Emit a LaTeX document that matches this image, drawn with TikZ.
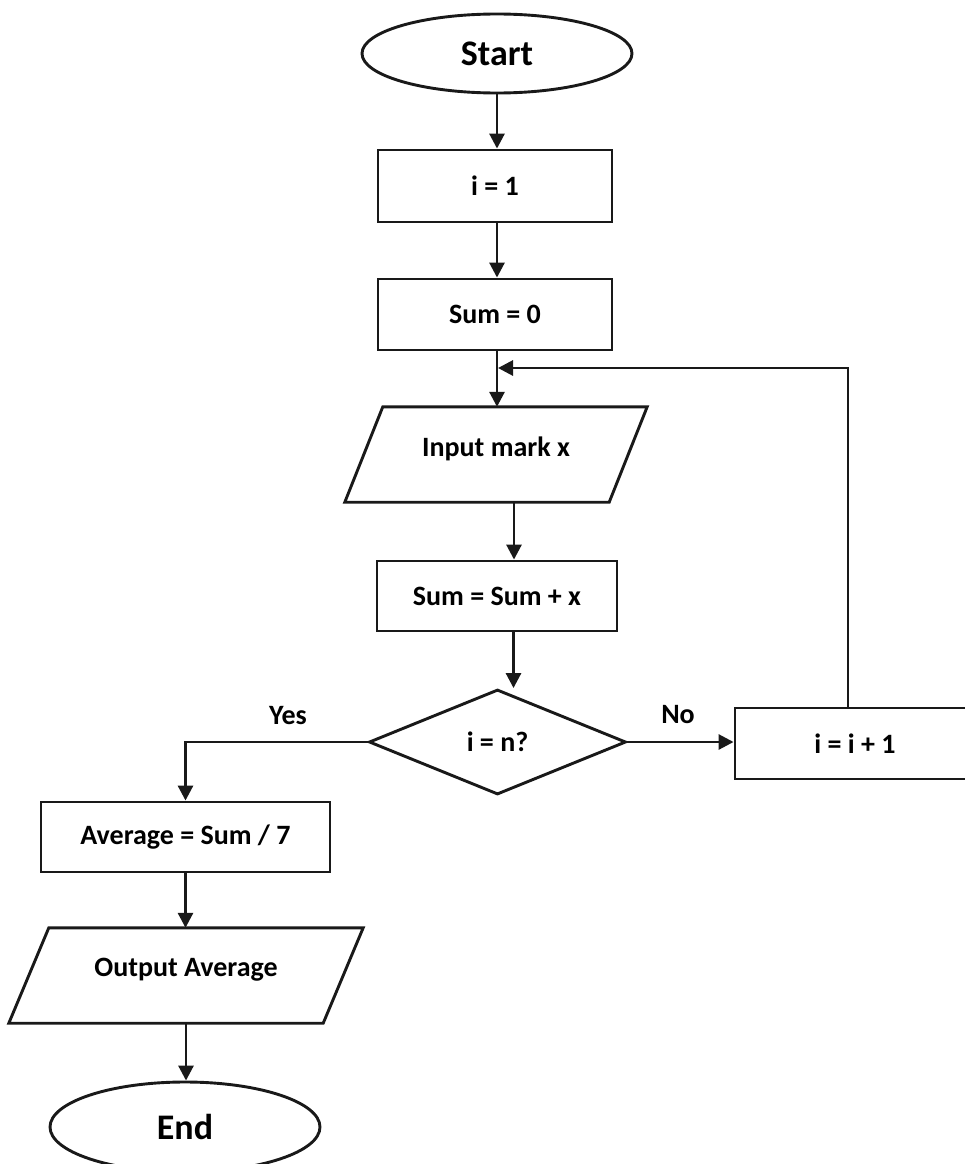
\documentclass[tikz,border=0pt]{standalone}
\usepackage{fontspec}
\setmainfont{Carlito}
\usetikzlibrary{arrows.meta,shapes.geometric,calc}
\tikzset{
  line/.style={draw=black!90, line width=2.9pt},
  arr/.style={line, -{Triangle[length=15pt,width=15pt]}},
  txt/.style={font=\fontsize{28}{32}\selectfont\bfseries},
  bigtxt/.style={font=\fontsize{36}{40}\selectfont\bfseries},
  term/.style={line, ellipse, inner sep=0pt, bigtxt, fill=white},
  procbox/.style={line, rectangle, inner sep=0pt, txt},
  iobody/.style={rectangle, inner sep=0pt, txt, text depth=16pt},
  decision/.style={line, diamond, inner sep=0pt, txt},
}
\begin{document}
\begin{tikzpicture}[x=1pt,y=-1pt]
\useasboundingbox (0,0) rectangle (965,1164);
\clip (0,0) rectangle (965,1164);

% nodes
\node[term, minimum width=270pt, minimum height=79pt] (start) at (497,53.5) {Start};
\node[procbox, minimum width=234pt, minimum height=72pt] (i1) at (495,186) {i = 1};
\node[procbox, minimum width=234pt, minimum height=71pt] (sum0) at (495,314.5) {Sum = 0};
\node[iobody, minimum width=264pt, minimum height=95pt] (inp) at (496,454.5) {Input mark x};
\draw[line] ([xshift=19pt]inp.north west) -- ([xshift=19pt]inp.north east)
  -- ([xshift=-19pt]inp.south east) -- ([xshift=-19pt]inp.south west) -- cycle;
\node[procbox, minimum width=240pt, minimum height=70pt] (sumx) at (497,596) {Sum = Sum + x};
\node[decision, minimum width=257pt, minimum height=105pt, aspect=2.45] (dec) at (497.5,742) {i = n?};
\node[procbox, minimum width=240pt, minimum height=71pt] (inc) at (855,743.5) {i = i + 1};
\node[procbox, minimum width=289pt, minimum height=70pt] (avg) at (185.5,837) {Average = Sum / 7};
\node[iobody, minimum width=314pt, minimum height=95pt] (out) at (186,975.5) {Output Average};
\draw[line] ([xshift=20pt]out.north west) -- ([xshift=20pt]out.north east)
  -- ([xshift=-20pt]out.south east) -- ([xshift=-20pt]out.south west) -- cycle;
\node[term, minimum width=270pt, minimum height=90pt] (end) at (185,1127) {End};

% labels
\node[txt] (yes) at (288,716) {Yes};
\node[txt] (no) at (678,715) {No};

% connectors
\draw[arr] (start.south) -- (start.south |- i1.north);
\draw[arr] (i1.south -| start.south) -- (start.south |- sum0.north);
\draw[arr] (sum0.south -| start.south) -- (start.south |- inp.north);
\coordinate (c1) at ([xshift=18pt]inp.south);
\draw[arr] (c1) -- (c1 |- sumx.north);
\coordinate (c2) at ([xshift=16.5pt]sumx.south);
\draw[arr] (c2) -- (c2 |- dec.north);
\draw[arr] (dec.west) -| (avg.north);
\draw[arr] (dec.east) -- (dec.east -| inc.west);
\coordinate (loopend) at (498,368);
\coordinate (c3) at ([xshift=-7pt]inc.north);
\draw[arr] (c3) |- (loopend);
\draw[arr] (avg.south) -- (avg.south |- out.north);
\draw[arr] (out.south) -- (out.south |- end.north);
\end{tikzpicture}
\end{document}
